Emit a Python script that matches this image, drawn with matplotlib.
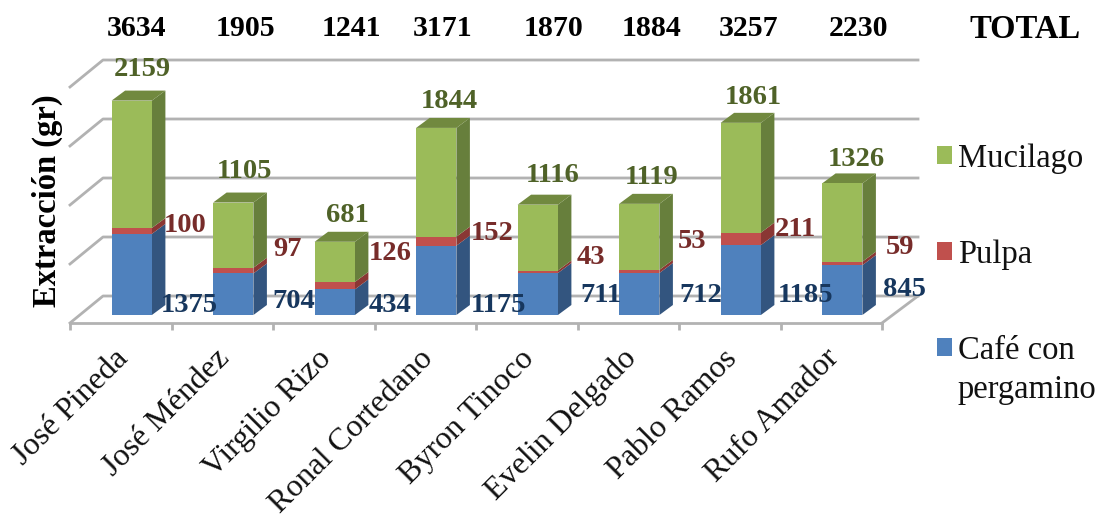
import numpy as np
import matplotlib
matplotlib.use("Agg")
import matplotlib.pyplot as plt
from matplotlib.patches import Polygon, Patch
from matplotlib.lines import Line2D
from matplotlib.transforms import Affine2D, IdentityTransform

plt.rcParams['font.family'] = ['Liberation Serif', 'DejaVu Serif']

# ---- data ----
categories = ["José Pineda", "José Méndez", "Virgilio Rizo", "Ronal Cortedano",
              "Byron Tinoco", "Evelin Delgado", "Pablo Ramos", "Rufo Amador"]
cafe = [1375, 704, 434, 1175, 711, 712, 1185, 845]
pulpa = [100, 97, 126, 152, 43, 53, 211, 59]
mucilago = [2159, 1105, 681, 1844, 1116, 1119, 1861, 1326]
totals = [3634, 1905, 1241, 3171, 1870, 1884, 3257, 2230]
y_grid = [0, 1000, 2000, 3000, 4000]

# ---- layout (pixels) ----
W, H = 1102, 520
L, R, FLOOR, TOP = 70, 882, 323, 87
WALL_DX, WALL_DY = 33, 27
BAR_DX, BAR_DY = 11, 8
SIDE_DX, SIDE_DY = 13.5, 10
BAR_W = 40.3 / 101.5
total_x = [136, 245, 351, 443, 553, 652, 749, 858]
muc_pos = [(142, 70), (244, 172), (347, 215), (449, 102), (553, 175), (652, 178), (753, 97), (856, 160)]
pul_pos = [(185, 226), (288, 250), (390, 254), (492, 234), (591, 258), (692, 242), (795, 229), (900, 248)]
caf_pos = [(189, 305), (294, 302), (390, 306), (498, 305), (601, 295), (701, 295), (805, 296), (904, 289)]

GRID = "#B2B2B2"
FRONT = ["#4F81BD", "#C0504D", "#9BBB59"]
SIDE = ["#33557F", "#8A3734", "#677F3C"]
TOPC = ["#4F81BD", "#C0504D", "#71893F"]
TXT = ["#17375E", "#772C2A", "#4F6228"]
FS_LABEL = 20.5
FS_TOTAL = 21.5
FS_TEXT = 23.5
FS_CAT = 23

fig = plt.figure(figsize=(W / 100, H / 100), dpi=100, facecolor="white")
ax = fig.add_axes([L / W, 1 - FLOOR / H, (R - L) / W, (FLOOR - TOP) / H])
ax.set_xlim(0, len(categories))
ax.set_ylim(0, 4000)
ax.patch.set_visible(False)
for s in ("top", "left", "right"):
    ax.spines[s].set_visible(False)
ax.spines["bottom"].set_color(GRID)
ax.spines["bottom"].set_linewidth(2)
ax.set_yticks([])
ax.set_xticks(np.arange(len(categories) + 1))
ax.set_xticklabels([])
ax.tick_params(axis="x", which="major", length=5, width=2, color=GRID)

def to_px(x, y):
    return ax.transData.transform((x, y))

ident = IdentityTransform()

def pxfig(x, y):
    return (x, H - y)

# walls
for v in y_grid:
    x0, y0 = to_px(0, v)
    x1, y1 = to_px(len(categories), v)
    ax.add_line(Line2D([x0, x0 + WALL_DX, x1 + WALL_DX + 3], [y0, y0 + WALL_DY, y0 + WALL_DY],
                       transform=ident, color=GRID, lw=2, zorder=1, clip_on=False))
x1, y1 = to_px(len(categories), 0)
ax.add_line(Line2D([x1, x1 + WALL_DX + 3], [y1, y1 + WALL_DY], transform=ident,
                   color=GRID, lw=2, zorder=1, clip_on=False))

# bars
bar_tr = Affine2D().translate(BAR_DX, BAR_DY)
xpos = np.arange(len(categories)) + 0.5
series = [cafe, pulpa, mucilago]
names = ["Café con", "Pulpa", "Mucilago"]
bottom = np.zeros(len(categories))
for k, vals in enumerate(series):
    vals = np.array(vals, float)
    for i, xc in enumerate(xpos):
        # right side face
        xr = xc + BAR_W / 2
        a = to_px(xr, bottom[i]) + (BAR_DX, BAR_DY)
        b = to_px(xr, bottom[i] + vals[i]) + (BAR_DX, BAR_DY)
        ax.add_patch(Polygon([a, b, b + (SIDE_DX, SIDE_DY), a + (SIDE_DX, SIDE_DY)],
                             transform=ident, fc=SIDE[k], ec="none", zorder=3, clip_on=False))
        if k == 2:
            xl = xc - BAR_W / 2
            c = to_px(xl, bottom[i] + vals[i]) + (BAR_DX, BAR_DY)
            ax.add_patch(Polygon([c, b, b + (SIDE_DX, SIDE_DY), c + (SIDE_DX, SIDE_DY)],
                                 transform=ident, fc=TOPC[k], ec="none", zorder=3, clip_on=False))
    ax.bar(xpos, vals, BAR_W, bottom=bottom, color=FRONT[k], zorder=4, clip_on=False,
           transform=ax.transData + bar_tr, label=names[k])
    bottom += vals

# data labels
for pos, vals, c in ((caf_pos, cafe, TXT[0]), (pul_pos, pulpa, TXT[1]), (muc_pos, mucilago, TXT[2])):
    for (px, py), v in zip(pos, vals):
        ax.text(*pxfig(px, py), str(v), transform=ident, ha="center", va="center",
                fontsize=FS_LABEL, fontweight="bold", color=c, zorder=6, clip_on=False)

# totals
for px, v in zip(total_x, totals):
    ax.text(*pxfig(px, 29), str(v), transform=ident, ha="center", va="center",
            fontsize=FS_TOTAL, fontweight="bold", color="black", clip_on=False)
ax.text(*pxfig(1025, 29), "TOTAL", transform=ident, ha="center", va="center",
        fontsize=FS_TEXT, fontweight="bold", color="black", clip_on=False)

# category labels
for xc, name in zip(xpos, categories):
    px, py = to_px(xc, 0)
    ax.text(px - 7, py - 21, name, transform=ident, rotation=45, rotation_mode="anchor",
            ha="right", va="top", fontsize=FS_CAT, color="#111111", clip_on=False)

# axis title
ax.text(*pxfig(47, 201), "Extracción (gr)", transform=ident, rotation=90, ha="center", va="center",
        fontsize=FS_TEXT, fontweight="bold", color="black", clip_on=False)

# legend
handles = [Patch(fc=FRONT[2]), Patch(fc=FRONT[1]), Patch(fc=FRONT[0])]
leg = fig.legend(handles, ["Mucilago", "Pulpa", "Café con"], loc="upper left",
                 bbox_to_anchor=(937 / W, 1 - 143 / H), bbox_transform=fig.transFigure,
                 frameon=False, fontsize=FS_TEXT, handlelength=0.46, handleheight=0.46,
                 handletextpad=0.18, labelspacing=2.01, borderpad=0, borderaxespad=0)
fig.text(958 / W, 1 - 390 / H, "pergamino", ha="left", va="center", fontsize=FS_TEXT, color="#111111")
for t in leg.get_texts():
    t.set_color("#111111")

fig.savefig("out.png", dpi=100, facecolor="white")
